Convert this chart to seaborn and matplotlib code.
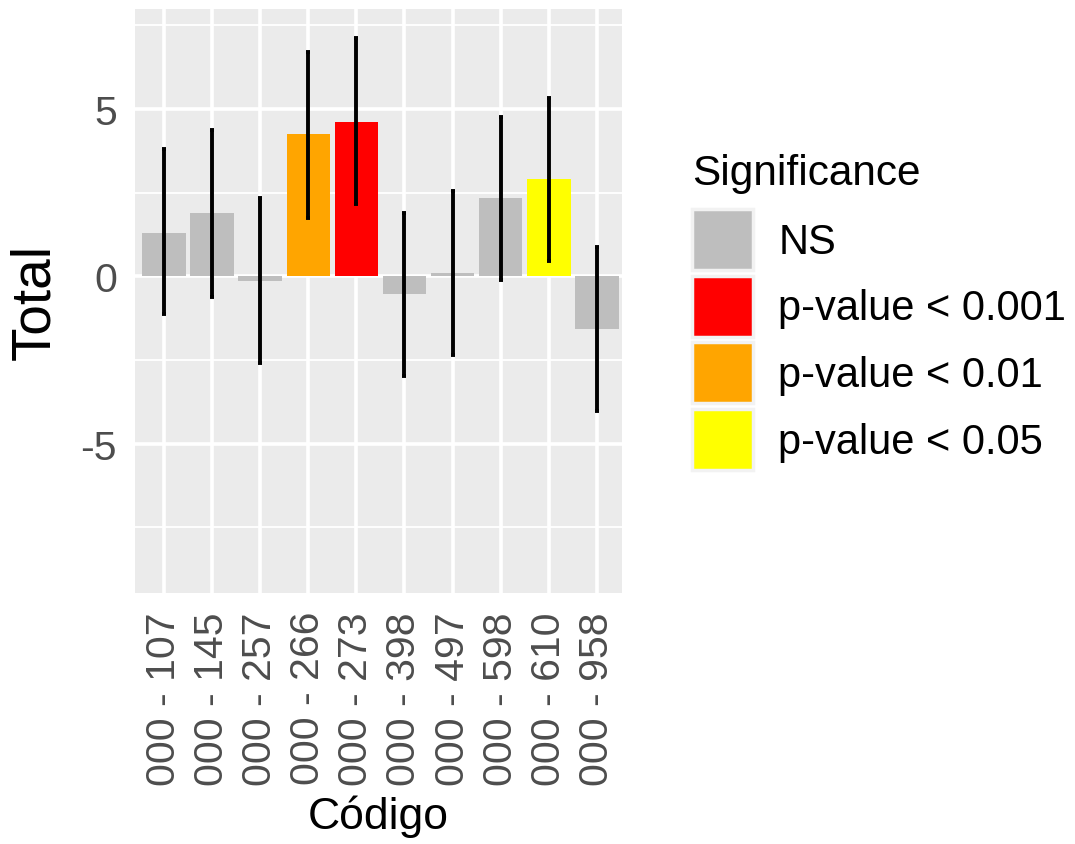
import matplotlib
matplotlib.use('Agg')
import matplotlib.pyplot as plt
from matplotlib.patches import Patch
from matplotlib.ticker import MultipleLocator
import pandas as pd
import seaborn as sns

# Datos
codigos = ['000 - 107', '000 - 145', '000 - 257', '000 - 266', '000 - 273',
           '000 - 398', '000 - 497', '000 - 598', '000 - 610', '000 - 958']
total = [1.31, 1.89, -0.13, 4.25, 4.62, -0.53, 0.09, 2.33, 2.90, -1.57]
limite_inf = [-1.13, -0.60, -2.59, 1.75, 2.15, -2.97, -2.35, -0.11, 0.45, -4.03]
limite_sup = [3.80, 4.37, 2.34, 6.72, 7.12, 1.91, 2.54, 4.77, 5.34, 0.87]
significancia = ['NS', 'NS', 'NS', 'p-value < 0.01', 'p-value < 0.001',
                 'NS', 'NS', 'NS', 'p-value < 0.05', 'NS']

niveles = ['NS', 'p-value < 0.001', 'p-value < 0.01', 'p-value < 0.05']
colores = {'NS': '#BEBEBE', 'p-value < 0.001': '#FF0000',
           'p-value < 0.01': '#FFA500', 'p-value < 0.05': '#FFFF00'}

df = pd.DataFrame({'Codigo': codigos, 'Total': total,
                   'low': limite_inf, 'high': limite_sup,
                   'Significance': significancia})

sns.set_theme(style='darkgrid')
plt.rcParams['font.family'] = ['Liberation Sans', 'DejaVu Sans']
plt.rcParams['axes.unicode_minus'] = False

fig = plt.figure(figsize=(10.75, 8.45), dpi=100)
ax = fig.add_axes([0.1256, 0.2970, 0.4530, 0.6911])
ax.set_facecolor('#EBEBEB')

sns.barplot(data=df, x='Codigo', y='Total', hue='Significance',
            hue_order=niveles, palette=colores, dodge=False, width=0.9,
            errorbar=None, saturation=1, linewidth=0, legend=False, ax=ax)

# Barras de error
x_pos = range(len(codigos))
err_low = [t - l for t, l in zip(total, limite_inf)]
err_high = [h - t for t, h in zip(total, limite_sup)]
ax.errorbar(x_pos, total, yerr=[err_low, err_high], fmt='none',
            ecolor='black', elinewidth=2.8, capsize=1.5, capthick=2.8, zorder=5)

ax.set_xlim(-0.6, 9.52)
ax.set_ylim(-9.46, 7.99)
ax.yaxis.set_major_locator(MultipleLocator(5))
ax.yaxis.set_minor_locator(MultipleLocator(2.5))
ax.grid(which='major', color='white', linewidth=2.6)
ax.grid(which='minor', axis='y', color='white', linewidth=1.3)
ax.set_axisbelow(True)
for s in ax.spines.values():
    s.set_visible(False)

ax.tick_params(axis='both', which='major', length=7, width=2.2, color='#333333',
               labelsize=29.5, labelcolor='#4D4D4D', pad=6)
ax.tick_params(axis='y', which='minor', length=0)
ax.set_xticks(list(x_pos))
ax.set_xticklabels(codigos, rotation=90)

ax.set_xlabel('Código', fontsize=32, color='black', labelpad=7)
ax.set_ylabel('Total', fontsize=39.5, color='black', labelpad=13.5)

# Leyenda
handles = [Patch(facecolor=colores[n], edgecolor='#F2F2F2', linewidth=2.5, label=n)
           for n in niveles]
leg = fig.legend(handles=handles, title='Significance', loc='upper left',
                 bbox_to_anchor=(0.6286, 0.8375), frameon=False, fontsize=30,
                 title_fontsize=30.5, handlelength=1.46, handleheight=1.874,
                 handletextpad=0.6, labelspacing=0.14, borderaxespad=0,
                 labelcolor='black')
leg.get_title().set_color('black')
leg._legend_box.align = 'left'
leg._legend_box.sep = 11.4

fig.savefig('out.png', dpi=100)
